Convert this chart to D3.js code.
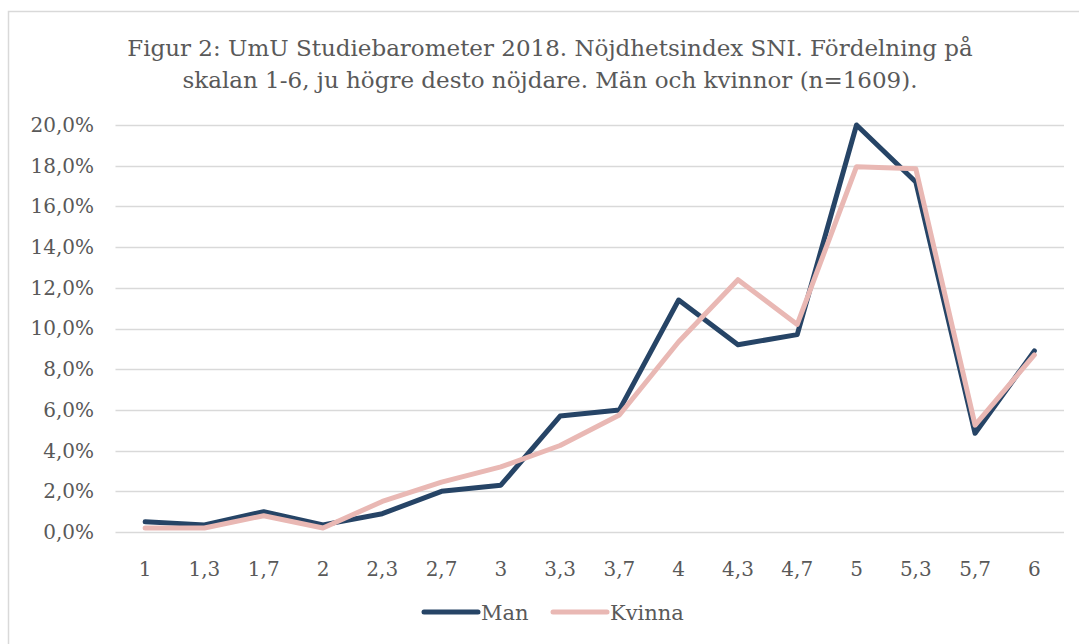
<!DOCTYPE html>
<html>
<head>
<meta charset="utf-8">
<script src="https://cdn.jsdelivr.net/npm/d3@7"></script>
<style>
body{margin:0;background:#fff;}
text{font-family:"DejaVu Serif",Georgia,serif;fill:#595959;}
</style>
</head>
<body>
<svg id="chart" width="1079" height="644"></svg>
<script>
// categories on the 1-6 scale
var categories = ["1","1,3","1,7","2","2,3","2,7","3","3,3","3,7","4","4,3","4,7","5","5,3","5,7","6"];
// percent values
var man    = [0.5,0.35,1.0,0.35,0.9,2.0,2.3,5.7,6.0,11.4,9.2,9.7,20.0,17.2,4.85,8.9];
var kvinna = [0.2,0.2,0.8,0.2,1.5,2.45,3.2,4.25,5.75,9.35,12.4,10.2,17.95,17.85,5.25,8.7];
var yTicks = [0,2,4,6,8,10,12,14,16,18,20];
var titleLines = ["Figur 2: UmU Studiebarometer 2018. Nöjdhetsindex SNI. Fördelning på",
                  "skalan 1-6, ju högre desto nöjdare. Män och kvinnor (n=1609)."];

var svg = d3.select('#chart');

// outer frame
svg.append('rect')
	.attr('x',8.5).attr('y',11.5)
	.attr('width',1100).attr('height',700)
	.attr('fill','none').attr('stroke','#d9d9d9').attr('stroke-width',1.5);

// title
svg.selectAll('.title').data(titleLines).enter().append('text')
	.attr('class','title')
	.attr('x',550).attr('y',function(d,i){ return 56 + i*32; })
	.attr('text-anchor','middle')
	.style('font-size','23px')
	.text(function(d){ return d; });

var x = d3.scaleBand().domain(categories).range([115.5,1064]);
var y = d3.scaleLinear().domain([0,20]).range([532,125]);

// gridlines
svg.append('g')
	.selectAll('line').data(yTicks).enter().append('line')
	.attr('x1',115.5).attr('x2',1064)
	.attr('y1',function(d){ return Math.round(y(d))+0.5; })
	.attr('y2',function(d){ return Math.round(y(d))+0.5; })
	.attr('stroke','#d9d9d9').attr('stroke-width',1.5);

// y axis labels
var fmt = function(d){ return d.toFixed(1).replace('.',',') + '%'; };
var yAxis = svg.append('g').attr('transform','translate(100,0)')
	.call(d3.axisLeft(y).tickValues(yTicks).tickSize(0).tickPadding(6).tickFormat(fmt));
yAxis.select('.domain').remove();
yAxis.selectAll('text').style('font-size','20px').attr('fill','#595959');

// x axis labels
var xAxis = svg.append('g').attr('transform','translate(0,550)')
	.call(d3.axisBottom(x).tickSize(0).tickPadding(12));
xAxis.select('.domain').remove();
xAxis.selectAll('text').style('font-size','20px').attr('fill','#595959');

// lines
var line = d3.line()
	.x(function(d,i){ return x(categories[i]) + x.bandwidth()/2; })
	.y(function(d){ return y(d); });

var series = [
	{name:'Man', values:man, color:'#264466'},
	{name:'Kvinna', values:kvinna, color:'#e9b8b4'}
];

series.forEach(function(s){
	svg.append('path')
		.attr('d', line(s.values))
		.attr('fill','none')
		.attr('stroke', s.color)
		.attr('stroke-width',5)
		.attr('stroke-linejoin','round')
		.attr('stroke-linecap','round');
});

// legend
var legendX = [424, 553];
series.forEach(function(s,i){
	var g = svg.append('g').attr('transform','translate('+legendX[i]+',612)');
	g.append('line')
		.attr('x1',0).attr('x2',54).attr('y1',0).attr('y2',0)
		.attr('stroke',s.color).attr('stroke-width',5).attr('stroke-linecap','round');
	g.append('text')
		.attr('x',57).attr('y',8)
		.style('font-size','21px')
		.text(s.name);
});
</script>
</body>
</html>
